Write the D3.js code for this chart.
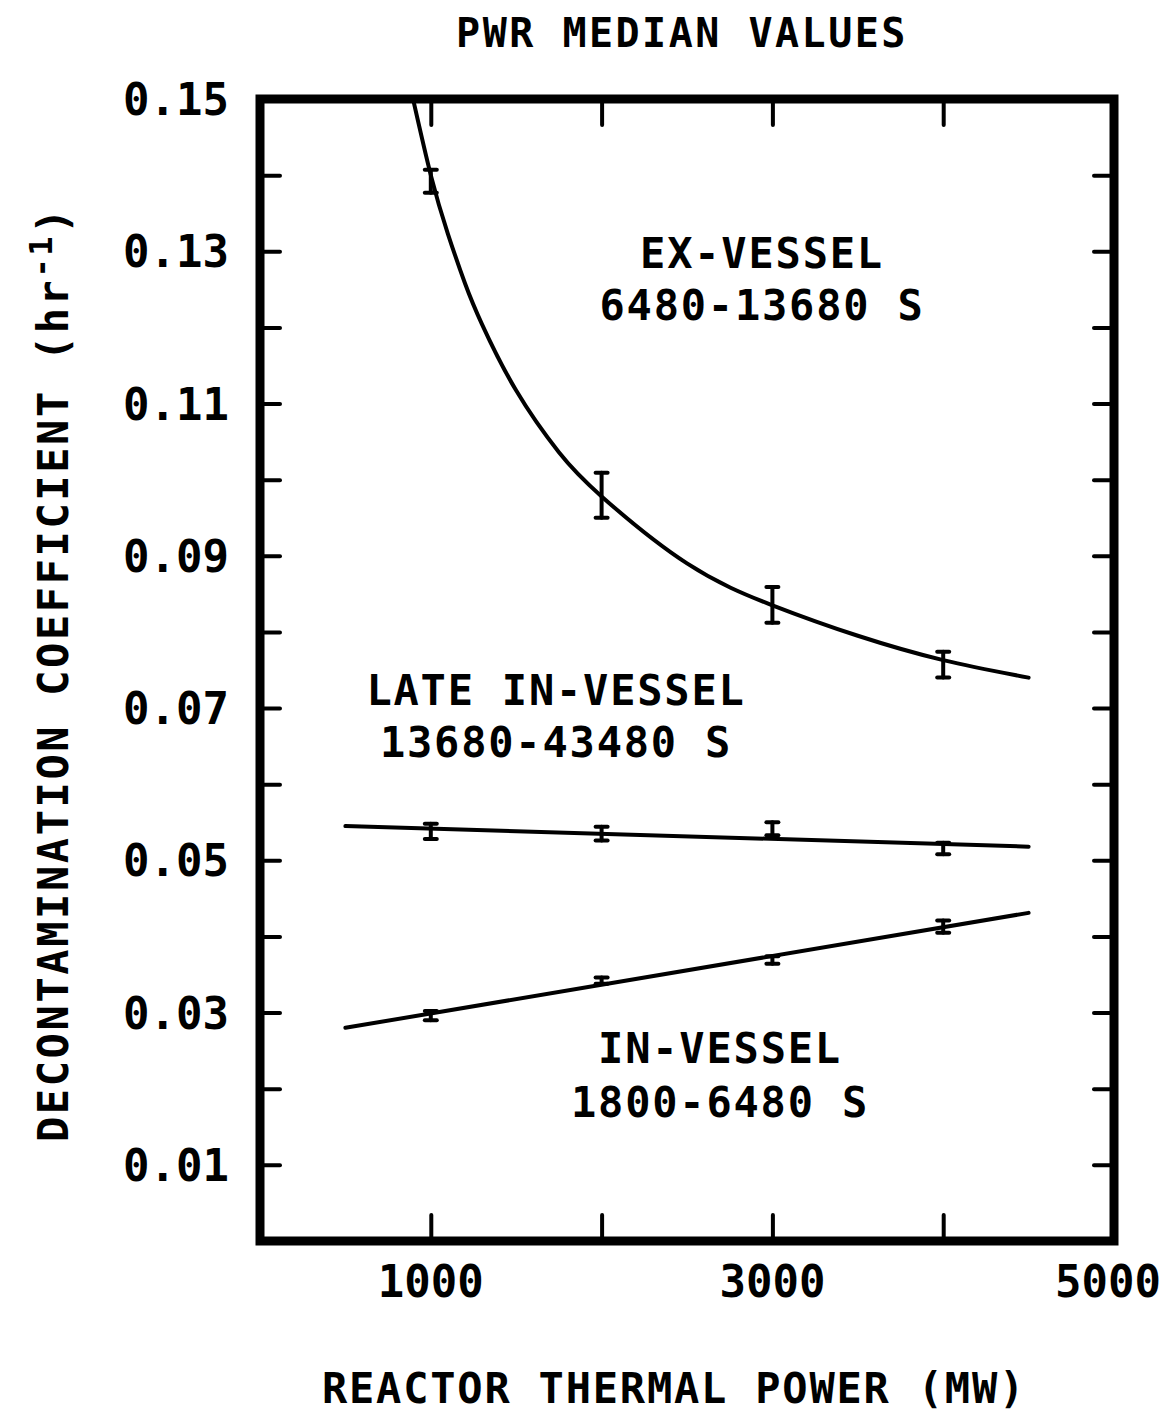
<!DOCTYPE html>
<html>
<head>
<meta charset="utf-8">
<script src="https://cdn.jsdelivr.net/npm/d3@7"></script>
<style>
  body { margin: 0; background: #fff; }
  text { font-family: "DejaVu Sans Mono", monospace; font-weight: bold; fill: #000; }
</style>
</head>
<body>
<svg id="chart" width="1164" height="1416"></svg>
<script>
// Reactor thermal power (MW) at which medians were computed
const powerPoints = [1000, 2000, 3000, 4000];

// Ex-vessel period (6480-13680 s): medians and uncertainty range
const exVesselMedian = [0.1392, 0.0980, 0.0836, 0.0757];
const exVesselLow    = [0.1377, 0.0950, 0.0812, 0.0740];
const exVesselHigh   = [0.1407, 0.1009, 0.0859, 0.0774];
// Fitted curve through the ex-vessel medians
const exVesselFitPower = [880, 1000, 1100, 1200, 1300, 1500, 1750, 2000, 2500, 3000, 3500, 4000, 4500];
const exVesselFit      = [0.1516, 0.1400, 0.1323, 0.1258, 0.1204, 0.1117, 0.1036, 0.0978, 0.0890, 0.0835, 0.0795, 0.0763, 0.0740];

// Late in-vessel period (13680-43480 s)
const lateMedian = [0.0538, 0.0534, 0.0540, 0.0515];
const lateLow    = [0.0528, 0.0526, 0.0533, 0.0508];
const lateHigh   = [0.0548, 0.0544, 0.0550, 0.0523];
const lateFitPower = [500, 4500];
const lateFit      = [0.0545, 0.0518];

// In-vessel period (1800-6480 s)
const inVesselMedian = [0.0296, 0.0342, 0.0369, 0.0413];
const inVesselLow    = [0.0290, 0.0338, 0.0364, 0.0405];
const inVesselHigh   = [0.0302, 0.0346, 0.0374, 0.0421];
const inVesselFitPower = [500, 4500];
const inVesselFit      = [0.0280, 0.0431];

// Axis ticks and labels
const xTicks = [1000, 2000, 3000, 4000, 5000];
const xTickLabels = [1000, 3000, 5000];
const yTicks = [0.01, 0.02, 0.03, 0.04, 0.05, 0.06, 0.07, 0.08, 0.09, 0.10, 0.11, 0.12, 0.13, 0.14, 0.15];
const yTickLabels = [0.01, 0.03, 0.05, 0.07, 0.09, 0.11, 0.13, 0.15];

const svg = d3.select("#chart");
const frame = { left: 260, right: 1114, top: 99, bottom: 1241 };

const x = d3.scaleLinear().domain([0, 5000]).range([frame.left, frame.right]);
const y = d3.scaleLinear().domain([0, 0.15]).range([frame.bottom, frame.top]);

// Title
svg.append("text")
  .attr("x", 682).attr("y", 47)
  .attr("text-anchor", "middle")
  .style("font-size", "40px")
  .style("letter-spacing", "2.5px")
  .text("PWR MEDIAN VALUES");

// Inward tick marks on all four sides
const tickStyle = g => {
  g.select(".domain").remove();
  g.selectAll(".tick line").attr("stroke", "#000").attr("stroke-width", 4).attr("stroke-linecap", "round");
  g.selectAll(".tick text").remove();
};
svg.append("g").attr("transform", `translate(0,${frame.bottom})`)
  .call(d3.axisBottom(x).tickValues(xTicks.filter(v => v < 5000)).tickSize(-26)).call(tickStyle);
svg.append("g").attr("transform", `translate(0,${frame.top})`)
  .call(d3.axisTop(x).tickValues(xTicks.filter(v => v < 5000)).tickSize(-26)).call(tickStyle);
svg.append("g").attr("transform", `translate(${frame.left},0)`)
  .call(d3.axisLeft(y).tickValues(yTicks.filter(v => v < 0.15)).tickSize(-20)).call(tickStyle);
svg.append("g").attr("transform", `translate(${frame.right},0)`)
  .call(d3.axisRight(y).tickValues(yTicks.filter(v => v < 0.15)).tickSize(-20)).call(tickStyle);

// Tick labels
svg.append("g").selectAll("text").data(xTickLabels).join("text")
  .attr("x", d => Math.min(x(d), 1108)).attr("y", 1297)
  .attr("text-anchor", "middle")
  .style("font-size", "44px")
  .text(d => d3.format("d")(d));
svg.append("g").selectAll("text").data(yTickLabels).join("text")
  .attr("x", 229).attr("y", d => y(d) + 16)
  .attr("text-anchor", "end")
  .style("font-size", "44px")
  .text(d => d3.format(".2f")(d));

// Axis titles
svg.append("text")
  .attr("x", 674).attr("y", 1403)
  .attr("text-anchor", "middle")
  .style("font-size", "42px")
  .style("letter-spacing", "1.8px")
  .text("REACTOR THERMAL POWER (MW)");
const yTitle = svg.append("text")
  .attr("transform", "translate(68,674) rotate(-90)")
  .attr("text-anchor", "middle")
  .style("font-size", "42px")
  .style("letter-spacing", "2.6px");
yTitle.append("tspan").text("DECONTAMINATION COEFFICIENT (hr");
yTitle.append("tspan").attr("dy", -16).style("font-size", "32px").text("-1");
yTitle.append("tspan").attr("dy", 16).text(")");

// Plot clip
svg.append("clipPath").attr("id", "plotClip")
  .append("rect").attr("x", frame.left).attr("y", frame.top)
  .attr("width", frame.right - frame.left).attr("height", frame.bottom - frame.top);

const plot = svg.append("g").attr("clip-path", "url(#plotClip)");

const line = d3.line().x(d => x(d[0])).y(d => y(d[1])).curve(d3.curveNatural);

const fits = [
  [exVesselFitPower, exVesselFit],
  [lateFitPower, lateFit],
  [inVesselFitPower, inVesselFit]
];
fits.forEach(([p, v]) => {
  plot.append("path")
    .datum(p.map((d, i) => [d, v[i]]))
    .attr("d", line)
    .attr("fill", "none")
    .attr("stroke", "#000")
    .attr("stroke-width", 4)
    .attr("stroke-linejoin", "round")
    .attr("stroke-linecap", "round");
});

// Error bars
const bars = [
  [exVesselLow, exVesselHigh],
  [lateLow, lateHigh],
  [inVesselLow, inVesselHigh]
];
const capHalf = 6;
bars.forEach(([lo, hi]) => {
  const g = plot.append("g").attr("stroke", "#000").attr("stroke-width", 4).attr("stroke-linecap", "round");
  powerPoints.forEach((p, i) => {
    g.append("line").attr("x1", x(p)).attr("x2", x(p)).attr("y1", y(lo[i])).attr("y2", y(hi[i]));
    g.append("line").attr("x1", x(p) - capHalf).attr("x2", x(p) + capHalf).attr("y1", y(lo[i])).attr("y2", y(lo[i]));
    g.append("line").attr("x1", x(p) - capHalf).attr("x2", x(p) + capHalf).attr("y1", y(hi[i])).attr("y2", y(hi[i]));
  });
});

// Period annotations
const notes = [
  { lines: ["EX-VESSEL", "6480-13680 S"], x: 762, y: [268, 320] },
  { lines: ["LATE IN-VESSEL", "13680-43480 S"], x: 556, y: [705, 757] },
  { lines: ["IN-VESSEL", "1800-6480 S"], x: 720, y: [1063, 1117] }
];
notes.forEach(n => {
  n.lines.forEach((t, i) => {
    svg.append("text")
      .attr("x", n.x).attr("y", n.y[i])
      .attr("text-anchor", "middle")
      .style("font-size", "42px")
      .style("letter-spacing", "1.8px")
      .text(t);
  });
});

// Frame
svg.append("rect")
  .attr("x", frame.left).attr("y", frame.top)
  .attr("width", frame.right - frame.left).attr("height", frame.bottom - frame.top)
  .attr("fill", "none").attr("stroke", "#000").attr("stroke-width", 9);
</script>
</body>
</html>
